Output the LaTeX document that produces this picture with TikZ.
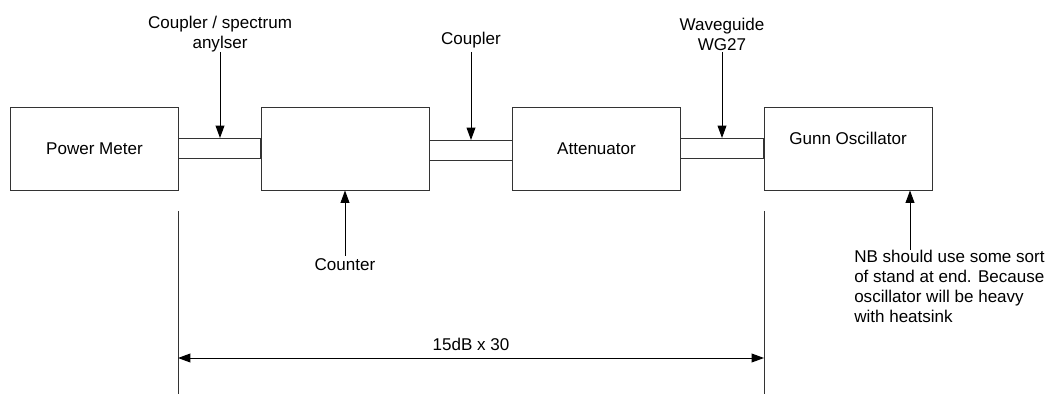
\documentclass[tikz,border=0pt]{standalone}
\usepackage{fontspec}
\setmainfont{Liberation Sans}
\usetikzlibrary{arrows.meta}

\begin{document}
\begin{tikzpicture}[x=0.02cm,y=-0.02cm,line width=0.55pt,
  unit/.style={draw=black!80,minimum width=3.36cm,minimum height=1.66cm,inner sep=0pt},
  txt/.style={font=\fontsize{9.7}{11.3}\selectfont,inner sep=1pt,align=center},
  tip/.style={-{Triangle[length=7pt,width=5pt]}}]
\useasboundingbox (0,0) rectangle (1050,394);
% units
\node[unit,txt] (pm) at (94.5,148.5) {Power Meter};
\node[unit] (cnt) at (345,148.5) {};
\node[unit,txt] (att) at (596.5,148.5) {Attenuator};
\node[unit] (gunn) at (848,148.5) {};
\node[txt] (gunnlbl) at (848,138) {Gunn Oscillator};
% waveguide
\draw[black!80] (pm.east |- 0,138) rectangle (cnt.west |- 0,158);
\draw[black!80] (cnt.east |- 0,140) rectangle (att.west |- 0,160);
\draw[black!80] (att.east |- 0,138) rectangle (gunn.west |- 0,158);
% labels
\node[txt] (spec) at (220,34) {Coupler / spectrum\\anylser};
\node[txt] (cpl) at (471,40) {Coupler};
\node[txt] (wg) at (722,34) {Waveguide\\WG27};
\node[txt,anchor=north] (ctr) at (345,256) {Counter};
\node[txt,anchor=north west,align=left] (nb) at (852,248)
  {NB should use some sort\\of stand at end. Because\\oscillator will be heavy\\with heatsink};
\draw[tip] (spec.south |- 0,52) -- (spec.south |- 0,138);
\draw[tip] (cpl.south |- 0,52) -- (cpl.south |- 0,140);
\draw[tip] (wg.south |- 0,52) -- (wg.south |- 0,138);
\draw[tip] (ctr.north) -- (cnt.south);
\draw[tip] (nb.north west -| 910,0) ++(0,2) -- (gunn.south -| 910,0);
% dimension
\coordinate (dl) at (178,211);
\coordinate (dr) at (764,211);
\draw[black!80] (dl) -- (dl |- 0,394);
\draw[black!80] (dr) -- (dr |- 0,394);
\draw[{Triangle[length=7pt,width=5pt]}-{Triangle[length=7pt,width=5pt]}] (dl |- 0,358) -- node[txt,above=3pt] (dim) {15dB x 30} (dr |- 0,358);
\end{tikzpicture}
\end{document}
